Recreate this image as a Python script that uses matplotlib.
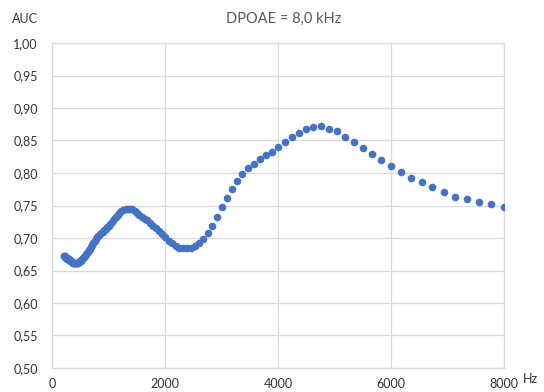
import matplotlib
matplotlib.use("Agg")
import matplotlib.pyplot as plt
from matplotlib.ticker import FuncFormatter, MultipleLocator

plt.rcParams['font.family'] = ['Lato', 'DejaVu Sans']

# Frequencies (Hz), 1/24-octave spacing
freq = [204, 210, 216, 223, 229, 236, 243, 250, 257, 265, 273, 281, 289, 297,
        306, 315, 324, 334, 344, 354, 364, 375, 386, 397, 409, 420, 433, 446,
        459, 472, 486, 500, 515, 530, 545, 561, 578, 595, 612, 630, 648, 667,
        687, 707, 728, 749, 771, 794, 817, 841, 866, 891, 917, 944, 972, 1000,
        1029, 1060, 1091, 1123, 1155, 1189, 1224, 1260, 1297, 1335, 1374, 1414,
        1456, 1498, 1542, 1587, 1634, 1682, 1731, 1782, 1834, 1888, 1943, 2000,
        2059, 2119, 2181, 2245, 2311, 2378, 2448, 2520, 2594, 2670, 2748, 2828,
        2911, 2997, 3085, 3175, 3268, 3364, 3462, 3564, 3668, 3776, 3886, 4000,
        4117, 4238, 4362, 4490, 4621, 4757, 4896, 5040, 5187, 5339, 5496, 5657,
        5823, 5993, 6169, 6350, 6536, 6727, 6924, 7127, 7336, 7551, 7772, 8000]

auc = [0.673, 0.672, 0.672, 0.671, 0.671, 0.670, 0.670, 0.669, 0.669, 0.668,
       0.668, 0.667, 0.667, 0.666, 0.666, 0.665, 0.665, 0.664, 0.663, 0.663,
       0.662, 0.662, 0.661, 0.661, 0.661, 0.661, 0.661, 0.661, 0.662, 0.663,
       0.664, 0.665, 0.666, 0.668, 0.670, 0.671, 0.673, 0.675, 0.677, 0.679,
       0.681, 0.683, 0.686, 0.689, 0.692, 0.695, 0.698, 0.701, 0.703, 0.706,
       0.708, 0.710, 0.712, 0.714, 0.717, 0.719, 0.722, 0.725, 0.729, 0.732,
       0.735, 0.738, 0.741, 0.743, 0.744, 0.745, 0.745, 0.744, 0.742, 0.739,
       0.736, 0.733, 0.730, 0.727, 0.723, 0.719, 0.715, 0.711, 0.706, 0.701,
       0.696, 0.692, 0.688, 0.685, 0.684, 0.684, 0.685, 0.688, 0.693, 0.699,
       0.708, 0.719, 0.733, 0.747, 0.762, 0.776, 0.788, 0.799, 0.807, 0.814,
       0.821, 0.827, 0.833, 0.840, 0.848, 0.855, 0.862, 0.868, 0.871, 0.872,
       0.868, 0.864, 0.856, 0.847, 0.838, 0.830, 0.820, 0.811, 0.802, 0.793,
       0.786, 0.778, 0.771, 0.763, 0.760, 0.756, 0.752, 0.748]

title = "DPOAE = 8,0 kHz"
y_label = "AUC"
x_label = "Hz"

W, H = 544, 392
fig = plt.figure(figsize=(W / 100, H / 100), dpi=100)
ax = fig.add_axes([52.3 / W, 1 - 368 / H, (504.3 - 52.3) / W, (368 - 43) / H])

grid_c = "#D9D9D9"
ax.scatter(freq, auc, s=30, color="#4472C4", linewidths=0, zorder=3)

ax.set_xlim(0, 8000)
ax.set_ylim(0.5, 1.0)
ax.xaxis.set_major_locator(MultipleLocator(2000))
ax.yaxis.set_major_locator(MultipleLocator(0.05))
ax.yaxis.set_major_formatter(FuncFormatter(lambda v, p: f"{v:.2f}".replace(".", ",")))
ax.xaxis.set_major_formatter(FuncFormatter(lambda v, p: f"{int(round(v))}"))
ax.grid(True, color=grid_c, linewidth=0.9, zorder=0)
ax.set_axisbelow(True)
for s in ax.spines.values():
    s.set_color(grid_c)
    s.set_linewidth(0.9)
ax.tick_params(axis='both', length=0, labelsize=9, colors="#333333")
ax.tick_params(axis='y', pad=10.5)
ax.tick_params(axis='x', pad=7.5)

fig.text(284 / W, 1 - 19 / H, title, ha="center", va="center", fontsize=10.5, color="#595959")
fig.text(25 / W, 1 - 19 / H, y_label, ha="center", va="center", fontsize=9, color="#333333")
fig.text(530 / W, 1 - 379 / H, x_label, ha="center", va="center", fontsize=9, color="#333333")

fig.savefig("out.png", dpi=100)
